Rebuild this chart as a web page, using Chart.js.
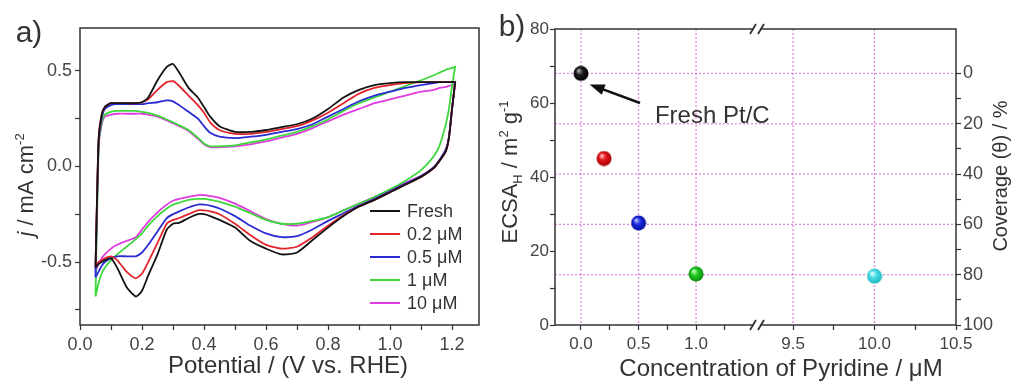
<!DOCTYPE html>
<html>
<head>
<meta charset="utf-8">
<script src="https://cdn.jsdelivr.net/npm/chart.js@4.4.0/dist/chart.umd.min.js"></script>
<style>
  html, body { margin: 0; padding: 0; background: #fff; }
  #wrap { position: relative; width: 1012px; height: 381px; background: #fff; }
  #cvA { position: absolute; left: 0; top: 0; }
  #cvB { position: absolute; left: 490px; top: 0; }
</style>
</head>
<body>
<div id="wrap">
  <canvas id="cvA" width="490" height="381"></canvas>
  <canvas id="cvB" width="522" height="381"></canvas>
</div>
<script>
const FONT = "'Liberation Sans', Arial, sans-serif";
Chart.defaults.font.family = FONT;
Chart.defaults.color = '#444';

// ---------- panel a: CVs ----------
const potential = [0.05, 0.06, 0.07, 0.08, 0.1, 0.12, 0.15, 0.18, 0.2, 0.22, 0.25, 0.28, 0.3, 0.32, 0.35, 0.38, 0.4, 0.42, 0.45, 0.5,
  0.55, 0.6, 0.65, 0.7, 0.75, 0.8, 0.85, 0.9, 0.95, 1.0, 1.05, 1.1, 1.14, 1.16, 1.18, 1.19, 1.2, 1.21];

// anodic (up) and cathodic (down) current, both listed in order of increasing potential
const freshUp = [-0.53, 0.14, 0.27, 0.31, 0.33, 0.33, 0.33, 0.33, 0.335, 0.36, 0.45, 0.52, 0.535, 0.49, 0.41, 0.36, 0.31, 0.26, 0.21, 0.18,
  0.18, 0.19, 0.205, 0.22, 0.25, 0.30, 0.36, 0.40, 0.425, 0.435, 0.44, 0.44, 0.44, 0.44, 0.44, 0.44, 0.44, 0.44];
const freshDown = [-0.53, -0.51, -0.50, -0.49, -0.48, -0.53, -0.63, -0.68, -0.65, -0.57, -0.46, -0.33, -0.30, -0.295, -0.27, -0.25, -0.25, -0.26, -0.28, -0.32,
  -0.39, -0.43, -0.46, -0.45, -0.385, -0.32, -0.26, -0.21, -0.175, -0.135, -0.095, -0.055, -0.01, 0.03, 0.08, 0.15, 0.30, 0.44];

const c02Up = [-0.52, 0.14, 0.27, 0.31, 0.33, 0.33, 0.33, 0.33, 0.335, 0.35, 0.40, 0.44, 0.445, 0.42, 0.37, 0.32, 0.28, 0.23, 0.19, 0.17,
  0.17, 0.18, 0.195, 0.21, 0.24, 0.28, 0.33, 0.38, 0.41, 0.425, 0.435, 0.44, 0.44, 0.44, 0.44, 0.44, 0.44, 0.44];
const c02Down = [-0.52, -0.50, -0.49, -0.48, -0.47, -0.49, -0.55, -0.585, -0.56, -0.50, -0.40, -0.30, -0.28, -0.27, -0.25, -0.23, -0.23, -0.235, -0.25, -0.30,
  -0.36, -0.41, -0.43, -0.42, -0.37, -0.31, -0.255, -0.21, -0.175, -0.135, -0.095, -0.055, -0.01, 0.03, 0.08, 0.15, 0.30, 0.44];

const c05Up = [-0.58, 0.12, 0.25, 0.30, 0.32, 0.325, 0.325, 0.325, 0.325, 0.33, 0.335, 0.345, 0.34, 0.32, 0.285, 0.25, 0.21, 0.175, 0.155, 0.148,
  0.155, 0.165, 0.18, 0.195, 0.22, 0.26, 0.30, 0.34, 0.37, 0.39, 0.41, 0.425, 0.435, 0.44, 0.44, 0.44, 0.44, 0.44];
const c05Down = [-0.58, -0.55, -0.52, -0.50, -0.48, -0.47, -0.47, -0.47, -0.45, -0.41, -0.34, -0.27, -0.25, -0.235, -0.215, -0.20, -0.20, -0.205, -0.22, -0.26,
  -0.31, -0.35, -0.37, -0.365, -0.33, -0.285, -0.245, -0.205, -0.17, -0.13, -0.09, -0.05, -0.005, 0.035, 0.09, 0.15, 0.30, 0.44];

const c1Up = [-0.68, 0.10, 0.23, 0.27, 0.285, 0.29, 0.29, 0.29, 0.285, 0.28, 0.265, 0.245, 0.23, 0.215, 0.19, 0.15, 0.12, 0.105, 0.105, 0.11,
  0.125, 0.14, 0.16, 0.18, 0.21, 0.245, 0.29, 0.33, 0.36, 0.39, 0.42, 0.45, 0.475, 0.49, 0.505, 0.51, 0.515, 0.52];
const c1Down = [-0.68, -0.61, -0.56, -0.53, -0.49, -0.46, -0.42, -0.38, -0.35, -0.31, -0.26, -0.22, -0.20, -0.19, -0.175, -0.17, -0.17, -0.175, -0.185, -0.21,
  -0.245, -0.28, -0.30, -0.30, -0.285, -0.265, -0.23, -0.195, -0.16, -0.12, -0.075, -0.02, 0.05, 0.11, 0.22, 0.30, 0.42, 0.52];

const c10Up = [-0.55, 0.10, 0.22, 0.26, 0.27, 0.275, 0.275, 0.275, 0.275, 0.27, 0.26, 0.24, 0.225, 0.21, 0.185, 0.145, 0.115, 0.10, 0.10, 0.105,
  0.115, 0.13, 0.15, 0.17, 0.20, 0.235, 0.27, 0.30, 0.33, 0.35, 0.37, 0.39, 0.40, 0.41, 0.415, 0.42, 0.425, 0.43];
const c10Down = [-0.55, -0.51, -0.48, -0.46, -0.43, -0.41, -0.39, -0.37, -0.33, -0.29, -0.24, -0.20, -0.18, -0.17, -0.16, -0.15, -0.15, -0.155, -0.165, -0.195,
  -0.235, -0.275, -0.30, -0.31, -0.29, -0.265, -0.23, -0.195, -0.16, -0.125, -0.085, -0.05, -0.01, 0.03, 0.08, 0.15, 0.30, 0.43];

const seriesNames = ['Fresh', '0.2 μM', '0.5 μM', '1 μM', '10 μM'];
const seriesColors = ['#141414', '#e3242b', '#2b2bd4', '#3cd83c', '#e03ce0'];
const seriesUp = [freshUp, c02Up, c05Up, c1Up, c10Up];
const seriesDown = [freshDown, c02Down, c05Down, c1Down, c10Down];

const potentialTicks = [0, 0.1, 0.2, 0.3, 0.4, 0.5, 0.6, 0.7, 0.8, 0.9, 1.0, 1.1, 1.2];
const potentialLabels = [0, 0.2, 0.4, 0.6, 0.8, 1.0, 1.2];
const currentTicks = [-0.75, -0.5, -0.25, 0, 0.25, 0.5];
const currentLabels = [-0.5, 0, 0.5];

// ---------- panel b: ECSA vs pyridine ----------
const concLow = [0.0, 0.2, 0.5, 1.0];
const ecsaLow = [68, 45, 27.6, 13.8];
const concHigh = [10.0];
const ecsaHigh = [13.2];
const colorsLow = ['black', 'red', 'blue', 'green'];
const colorsHigh = ['cyan'];
const freshEcsa = 68; // ECSA at zero coverage, fixes the coverage axis

const concTicksLow = [0, 0.25, 0.5, 0.75, 1.0, 1.25];
const concLabelsLow = [0, 0.5, 1.0];
const concTicksHigh = [9.5, 9.75, 10.0, 10.25, 10.5];
const concLabelsHigh = [9.5, 10.0, 10.5];
const ecsaTicks = [0, 10, 20, 30, 40, 50, 60, 70, 80];
const ecsaLabels = [0, 20, 40, 60, 80];
const coverageTicks = [0, 10, 20, 30, 40, 50, 60, 70, 80, 90, 100];
const coverageLabels = [0, 20, 40, 60, 80, 100];

// ---------- helpers ----------
const fontOf = p => (p.italic ? 'italic ' : '') + p.size + 'px ' + FONT;

function drawRich(ctx, x, y, parts, rotated, color) {
  ctx.save();
  ctx.translate(x, y);
  if (rotated) ctx.rotate(-Math.PI / 2);
  ctx.textBaseline = 'alphabetic';
  ctx.textAlign = 'left';
  ctx.fillStyle = color || '#333';
  let total = 0;
  parts.forEach(p => { ctx.font = fontOf(p); p.w = ctx.measureText(p.t).width; total += p.w; });
  let cx = -total / 2;
  parts.forEach(p => { ctx.font = fontOf(p); ctx.fillText(p.t, cx, p.dy || 0); cx += p.w; });
  ctx.restore();
}

const spherePalette = {
  black: ['#b0b0b0', '#1c1c1c', '#000000'],
  red: ['#ffc0c0', '#e8181c', '#a00000'],
  blue: ['#b8c0ff', '#1c2ee6', '#000a90'],
  green: ['#c8ffc8', '#22cc22', '#0a8a0a'],
  cyan: ['#e8ffff', '#48e0e6', '#20b4bc']
};
function makeSphere(name) {
  const [light, base, dark] = spherePalette[name];
  const c = document.createElement('canvas');
  c.width = 16; c.height = 16;
  const g = c.getContext('2d');
  const grad = g.createRadialGradient(5.5, 5, 0.5, 8, 8, 8);
  grad.addColorStop(0, light);
  grad.addColorStop(0.4, base);
  grad.addColorStop(1, dark);
  g.fillStyle = grad;
  g.beginPath(); g.arc(8, 8, 7.5, 0, Math.PI * 2); g.fill();
  return c;
}

const setTicks = list => s => { s.ticks = list.map(v => ({ value: v })); };
const fixWidth = w => s => { s.width = w; };
const fixHeight = h => s => { s.height = h; };
const tickGrid = { display: true, drawOnChartArea: false, drawTicks: true, tickLength: 5, tickWidth: 1.2, tickColor: '#333' };

// ---------- chart a ----------
const cvDatasets = seriesNames.map((name, k) => ({
  label: name,
  data: seriesUp[k].map((v, i) => ({ x: potential[i], y: v }))
    .concat(seriesDown[k].map((v, i) => ({ x: potential[i], y: v })).reverse()),
  borderColor: seriesColors[k],
  borderWidth: 1.8,
  pointRadius: 0,
  fill: false,
  tension: 0.2
}));

const framePluginA = {
  id: 'frameA',
  afterDatasetsDraw(chart) {
    const { ctx, chartArea: a } = chart;
    ctx.save();
    ctx.strokeStyle = '#333';
    ctx.lineWidth = 1.5;
    ctx.strokeRect(a.left, a.top, a.right - a.left, a.bottom - a.top);
    // legend
    ctx.font = '18px ' + FONT;
    ctx.textBaseline = 'middle';
    ctx.textAlign = 'left';
    seriesNames.forEach((name, k) => {
      const y = 211 + k * 23;
      ctx.strokeStyle = seriesColors[k];
      ctx.lineWidth = 2;
      ctx.beginPath(); ctx.moveTo(370, y); ctx.lineTo(400, y); ctx.stroke();
      ctx.fillStyle = '#333';
      ctx.fillText(name, 407, y + 1);
    });
    ctx.restore();
    drawRich(ctx, 33, 185, [{ t: 'j', size: 22, italic: true }, { t: ' / mA cm', size: 22 }, { t: '-2', size: 13, dy: -9 }], true);
    drawRich(ctx, 288, 373, [{ t: 'Potential / (V vs. RHE)', size: 24 }], false);
    drawRich(ctx, 29, 42, [{ t: 'a)', size: 30 }], false);
  }
};

new Chart(document.getElementById('cvA'), {
  type: 'line',
  data: { datasets: cvDatasets },
  options: {
    responsive: false,
    animation: false,
    layout: { padding: { top: 28, right: 11, left: 0, bottom: 0 } },
    plugins: { legend: { display: false }, tooltip: { enabled: false } },
    scales: {
      x: {
        type: 'linear', min: 0, max: 1.287,
        afterBuildTicks: setTicks(potentialTicks),
        afterFit: fixHeight(56),
        grid: tickGrid,
        border: { display: false },
        ticks: {
          autoSkip: false, maxRotation: 0, padding: 4, color: '#444', font: { size: 18 },
          callback: v => potentialLabels.some(p => Math.abs(p - v) < 1e-6) ? v.toFixed(1) : ''
        }
      },
      y: {
        type: 'linear', min: -0.829, max: 0.723,
        afterBuildTicks: setTicks(currentTicks),
        afterFit: fixWidth(80),
        grid: tickGrid,
        border: { display: false },
        ticks: {
          autoSkip: false, padding: 3, color: '#444', font: { size: 18 },
          callback: v => currentLabels.some(p => Math.abs(p - v) < 1e-6) ? v.toFixed(1) : ''
        }
      }
    }
  },
  plugins: [framePluginA]
});

// ---------- chart b ----------
const ecsaDatasets = concLow.map((c, i) => ({
  data: [{ x: c, y: ecsaLow[i] }], xAxisID: 'x1', yAxisID: 'y',
  pointStyle: makeSphere(colorsLow[i])
})).concat(concHigh.map((c, i) => ({
  data: [{ x: c, y: ecsaHigh[i] }], xAxisID: 'x2', yAxisID: 'y',
  pointStyle: makeSphere(colorsHigh[i])
})));

// annotation placement (in data units of x1 / y)
const noteText = { x: 0.643, y: 54.6 };
const noteArrow = { fromX: 0.513, fromY: 60.0, toX: 0.075, toY: 65.0 };

const framePluginB = {
  id: 'frameB',
  beforeDatasetsDraw(chart) {
    const { ctx, chartArea: a, scales } = chart;
    ctx.save();
    ctx.strokeStyle = 'rgba(214, 96, 214, 0.8)';
    ctx.lineWidth = 1.2;
    ctx.setLineDash([2, 2]);
    const vLines = concLabelsLow.map(v => scales.x1.getPixelForValue(v))
      .concat([9.5, 10.0].map(v => scales.x2.getPixelForValue(v)));
    vLines.forEach(x => { ctx.beginPath(); ctx.moveTo(x, a.top); ctx.lineTo(x, a.bottom); ctx.stroke(); });
    [0, 20, 40, 60, 80].forEach(v => {
      const y = scales.y2.getPixelForValue(v);
      ctx.beginPath(); ctx.moveTo(a.left, y); ctx.lineTo(a.right, y); ctx.stroke();
    });
    ctx.restore();
  },
  afterDatasetsDraw(chart) {
    const { ctx, chartArea: a, scales } = chart;
    ctx.save();
    ctx.strokeStyle = '#333';
    ctx.lineWidth = 1.5;
    ctx.strokeRect(a.left, a.top, a.right - a.left, a.bottom - a.top);
    // axis break marks
    const bx = scales.x1.right;
    [a.top, a.bottom].forEach(y => {
      ctx.fillStyle = '#fff';
      ctx.fillRect(bx - 3, y - 2, 6, 4);
      ctx.lineWidth = 1.8;
      ctx.beginPath();
      ctx.moveTo(bx - 7, y + 5); ctx.lineTo(bx - 1, y - 5);
      ctx.moveTo(bx + 1, y + 5); ctx.lineTo(bx + 7, y - 5);
      ctx.stroke();
    });
    // annotation arrow
    const x0 = scales.x1.getPixelForValue(noteArrow.fromX), y0 = scales.y.getPixelForValue(noteArrow.fromY);
    const x1 = scales.x1.getPixelForValue(noteArrow.toX), y1 = scales.y.getPixelForValue(noteArrow.toY);
    const ang = Math.atan2(y1 - y0, x1 - x0);
    ctx.strokeStyle = '#111';
    ctx.fillStyle = '#111';
    ctx.lineWidth = 2.5;
    ctx.beginPath();
    ctx.moveTo(x0, y0);
    ctx.lineTo(x1 - 10 * Math.cos(ang), y1 - 10 * Math.sin(ang));
    ctx.stroke();
    ctx.beginPath();
    ctx.moveTo(x1, y1);
    ctx.lineTo(x1 - 15 * Math.cos(ang) + 5.5 * Math.sin(ang), y1 - 15 * Math.sin(ang) - 5.5 * Math.cos(ang));
    ctx.lineTo(x1 - 15 * Math.cos(ang) - 5.5 * Math.sin(ang), y1 - 15 * Math.sin(ang) + 5.5 * Math.cos(ang));
    ctx.closePath();
    ctx.fill();
    ctx.restore();

    ctx.save();
    ctx.font = '24px ' + FONT;
    ctx.fillStyle = '#333';
    ctx.textBaseline = 'alphabetic';
    ctx.fillText('Fresh Pt/C', scales.x1.getPixelForValue(noteText.x), scales.y.getPixelForValue(noteText.y));
    ctx.restore();

    drawRich(ctx, 27, 172, [
      { t: 'ECSA', size: 22 }, { t: 'H', size: 13, dy: 5 }, { t: ' / m', size: 22 },
      { t: '2', size: 13, dy: -9 }, { t: ' g', size: 22 }, { t: '-1', size: 13, dy: -9 }
    ], true);
    drawRich(ctx, 517, 176, [{ t: 'Coverage (θ) / %', size: 20 }], true);
    drawRich(ctx, 291, 376, [{ t: 'Concentration of Pyridine / μM', size: 24 }], false);
    drawRich(ctx, 22, 36, [{ t: 'b)', size: 30 }], false);
  }
};

const labelOf = list => v => list.some(p => Math.abs(p - v) < 1e-6) ? v.toFixed(1) : '';
const labelInt = list => v => list.some(p => Math.abs(p - v) < 1e-6) ? String(Math.round(v)) : '';

new Chart(document.getElementById('cvB'), {
  type: 'scatter',
  data: { datasets: ecsaDatasets },
  options: {
    responsive: false,
    animation: false,
    layout: { padding: { top: 29, right: 0, left: 0, bottom: 0 } },
    plugins: { legend: { display: false }, tooltip: { enabled: false } },
    scales: {
      x1: {
        type: 'linear', position: 'bottom', stack: 'conc', stackWeight: 202,
        min: -0.226, max: 1.53,
        afterBuildTicks: setTicks(concTicksLow),
        afterFit: fixHeight(56),
        grid: tickGrid, border: { display: false },
        ticks: { autoSkip: false, maxRotation: 0, padding: 4, color: '#444', font: { size: 17 }, callback: labelOf(concLabelsLow) }
      },
      x2: {
        type: 'linear', position: 'bottom', stack: 'conc', stackWeight: 199,
        min: 9.279, max: 10.5,
        afterBuildTicks: setTicks(concTicksHigh),
        afterFit: fixHeight(56),
        grid: tickGrid, border: { display: false },
        ticks: { autoSkip: false, maxRotation: 0, padding: 4, color: '#444', font: { size: 17 }, callback: labelOf(concLabelsHigh) }
      },
      y: {
        type: 'linear', position: 'left', min: 0, max: 80,
        afterBuildTicks: setTicks(ecsaTicks),
        afterFit: fixWidth(65),
        grid: tickGrid, border: { display: false },
        ticks: { autoSkip: false, padding: 1, color: '#444', font: { size: 17 }, callback: labelInt(ecsaLabels) }
      },
      y2: {
        type: 'linear', position: 'right', reverse: true,
        min: (1 - 80 / freshEcsa) * 100, max: 100,
        afterBuildTicks: setTicks(coverageTicks),
        afterFit: fixWidth(56),
        grid: tickGrid, border: { display: false },
        ticks: { autoSkip: false, padding: 2, color: '#444', font: { size: 18 }, callback: labelInt(coverageLabels) }
      }
    }
  },
  plugins: [framePluginB]
});
</script>
</body>
</html>
